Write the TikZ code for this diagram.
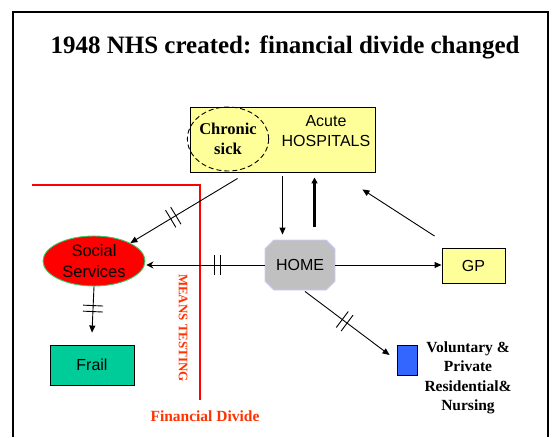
\documentclass[tikz,border=0pt]{standalone}
\usepackage{fontspec}
\setmainfont{Liberation Serif}
\newfontfamily\arialf{Liberation Sans}
\usetikzlibrary{shapes.geometric,shapes.misc,arrows.meta,decorations.markings,calc}
\definecolor{hosp}{HTML}{FFFF99}
\definecolor{homegray}{HTML}{C0C0C0}
\definecolor{homeedge}{HTML}{CCCCFF}
\definecolor{ssedge}{HTML}{33CC66}
\definecolor{frailg}{HTML}{00CC99}
\definecolor{volblue}{HTML}{3366FF}
\definecolor{divred}{HTML}{FF3300}
\tikzset{
  box/.style={draw=black, line width=0.9pt, inner sep=0pt},
  sans/.style={font=\arialf\fontsize{16}{20}\selectfont, align=center},
  serifb/.style={font=\fontsize{15.5}{19.5}\selectfont\bfseries, align=center},
  conn/.style={line width=0.9pt, -{Triangle[length=7pt,width=6pt]}},
  dblbar/.style={postaction={decorate}, decoration={markings,
    mark=at position #1 with {\draw[-, line width=0.9pt] (-3pt,-10pt)--(-3pt,10pt) (3pt,-10pt)--(3pt,10pt);}}},
  dblbar/.default=0.5
}
\begin{document}
\begin{tikzpicture}[x=1pt,y=-1pt]
\useasboundingbox (0,0) rectangle (552,437);
% frame
\draw[line width=1.5pt] (13,437) -- (13,12) -- (548,12) -- (548,437);
% title
\node (title) at (285,47) {\fontsize{25}{30}\selectfont\bfseries 1948 NHS created: financial divide changed};
% red divide
\draw[red, line width=2.5pt] (32,185) -| (200,400);
% nodes
\node[box, fill=hosp, minimum width=185pt, minimum height=65pt] (hosp) at (282.5,139.5) {};
\node[draw, dash pattern=on 5pt off 3pt, line width=0.9pt, ellipse, minimum width=72pt, minimum height=64pt, inner sep=0pt,
      font=\fontsize{16.5}{20}\selectfont\bfseries, align=center] (chronic) at (228,139) {Chronic\\sick};
\node[sans] (acute) at (326,131) {Acute\\HOSPITALS};
\node[ellipse, fill=red, draw=ssedge, line width=0.9pt, minimum width=102pt, minimum height=50pt, inner sep=0pt, sans,
      font=\arialf\fontsize{16.5}{21}\selectfont] (ss) at (94,261) {Social\\Services};
\node[chamfered rectangle, chamfered rectangle xsep=12pt, chamfered rectangle angle=45, fill=homegray, draw=homeedge, line width=0.9pt,
      minimum width=70pt, minimum height=50pt, inner sep=0pt, sans] (home) at (300,265) {HOME};
\node[box, fill=hosp, minimum width=63pt, minimum height=35pt, sans] (gp) at (473.5,266) {GP};
\node[box, fill=frailg, minimum width=84pt, minimum height=40pt, sans] (frail) at (92,365) {Frail};
\node[box, fill=volblue, minimum width=20pt, minimum height=30pt] (blue) at (407,360) {};
\node[serifb] (vol) at (468,378) {Voluntary \&\\Private\\Residential\&\\Nursing};
\node[text=divred, font=\fontsize{15.5}{18}\selectfont\bfseries] (fd) at (205,416) {Financial Divide};
\node[text=divred, rotate=-90, font=\fontsize{13}{15}\selectfont\bfseries] (mt) at (183,328) {MEANS TESTING};
% connectors
\draw[conn, dblbar=0.6] ($(hosp.south west)+(48,6)$) -- (ss.north east);
\draw[line width=0.9pt, -{Stealth[length=7pt,width=7pt]}, dblbar=0.4] (home.west) -- ([xshift=1pt]ss.east |- home.west);
\draw[conn] ([yshift=-4pt]hosp.south) -- ([yshift=5pt]hosp.south |- home.north);
\draw[line width=2.5pt, -{Triangle[length=6pt,width=6pt]}] ([xshift=32pt,yshift=13pt]hosp.south |- home.north) -- ([xshift=32pt,yshift=-5pt]hosp.south);
\draw[conn] (home.east) -- (gp.west |- home.east);
\draw[conn] ($(gp.north west)+(-7,-12)$) -- ($(hosp.south east)+(-13,17)$);
\draw[conn, dblbar=0.48] (ss.south) -- ([yshift=12pt]frail.north);
\draw[conn, dblbar=0.47] ($(home.south)+(5,1)$) -- ($(blue.west)+(-7,-5)$);
\end{tikzpicture}
\end{document}
